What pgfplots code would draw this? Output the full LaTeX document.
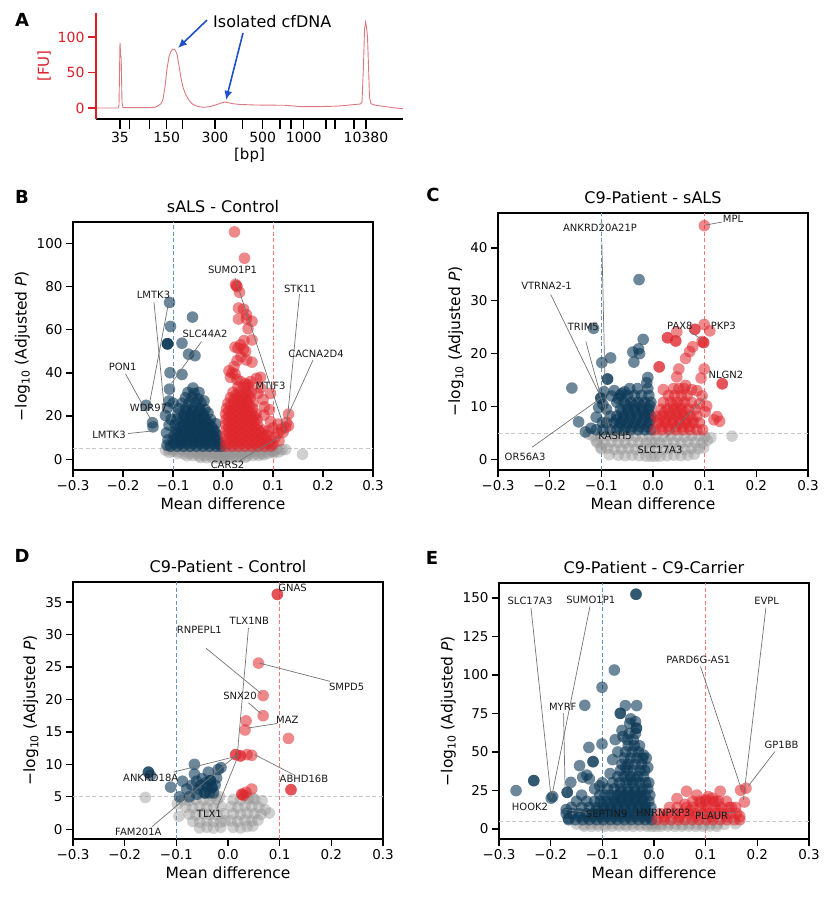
\documentclass[border=0pt]{standalone}
\usepackage{fontspec}
\setmainfont{DejaVu Sans}
\usepackage{pgfplots}
\pgfplotsset{compat=1.18}
\usetikzlibrary{arrows.meta}
\definecolor{cblue}{RGB}{12,56,86}
\definecolor{cred}{RGB}{222,38,44}
\definecolor{cgray}{RGB}{150,150,150}
\definecolor{vblue}{RGB}{100,150,190}
\definecolor{vred}{RGB}{240,120,120}
\definecolor{hgray}{RGB}{200,200,200}
\definecolor{fured}{RGB}{220,30,40}
\definecolor{trace}{RGB}{220,120,125}
\definecolor{arrowblue}{RGB}{30,80,200}
\pgfplotsset{
 volc/.style={scale only axis, anchor=south west, xmin=-0.3, xmax=0.3,
   xtick={-0.3,-0.2,-0.1,0,0.1,0.2,0.3},
   xticklabels={−0.3,−0.2,−0.1,0.0,0.1,0.2,0.3},
   xtick pos=left, ytick pos=left, tick align=outside, major tick length=7pt,
   axis line style={line width=1.6pt}, tick style={black, line width=1.3pt},
   tick label style={font=\fontsize{13.5}{15}\selectfont},
   /pgf/number format/assume math mode=true,
   xlabel={Mean difference}, ylabel={−log\textsubscript{10} (Adjusted \textit{P})},
   label style={font=\fontsize{15.5}{17}\selectfont},
   title style={font=\fontsize{16}{18}\selectfont},
   clip=false},
 ovl/.style={scale only axis, anchor=south west, xmin=-0.3, xmax=0.3, hide axis, clip=false},
 gp/.style={only marks, color=cgray, mark=*, mark size=5.8pt, mark options={draw=cgray, draw opacity=0, fill=cgray, fill opacity=0.45}},
 bp/.style={only marks, color=cblue, mark=*, mark size=5.8pt, mark options={draw=cblue, draw opacity=0, fill=cblue, fill opacity=0.6}},
 rp/.style={only marks, color=cred, mark=*, mark size=5.8pt, mark options={draw=cred, draw opacity=0, fill=cred, fill opacity=0.55}},
 vb/.style={vblue, dash pattern=on 4pt off 2.5pt, line width=0.9pt},
 vr/.style={vred, dash pattern=on 4pt off 2.5pt, line width=0.9pt},
 hg/.style={hgray, dash pattern=on 4pt off 2.5pt, line width=0.9pt},
}
\tikzset{ann/.style={font=\fontsize{10}{12}\selectfont, text=black!90, inner sep=0pt},
 con/.style={draw=black!55, line width=0.7pt},
 letter/.style={font=\bfseries\fontsize{18}{20}\selectfont}}
\begin{document}
\begin{tikzpicture}
\path[use as bounding box] (0pt,0pt) rectangle (831pt,900pt);
% ---------------- Panel A ----------------
\begin{axis}[at={(96pt,781pt)}, anchor=south west, scale only axis, width=307pt, height=106pt,
  xmin=96, xmax=403, ymin=-15.5, ymax=133.8, hide y axis, axis x line*=bottom,
  x axis line style={black, line width=1.3pt, -}, xtick pos=left, tick align=outside,
  major tick length=10pt, tick style={black, line width=1.1pt},
  xtick={120,129.3,149.3,166.7,182.7,215,242.7,262.7,280,291,303.7,326,335,354,366},
  xticklabels={35,,,150,,300,,500,,,1000,,,,10380},
  tick label style={font=\fontsize{14}{16}\selectfont},
  xlabel={[bp]}, xlabel style={font=\fontsize{15}{17}\selectfont, yshift=2pt}, clip=false]
\addplot[trace, line width=0.9pt] coordinates {(97,0)(118,0)(119,4)(120,92)(120.6,75)(121.2,70)(122,8)(123,0.5)(150,0.5)(155,1)(158,3)(161,6)(163,12)(165,30)(167,55)(169,72)(171,80)(173,83)(175,82)(177,76)(179,60)(181,42)(183,29)(186,18)(189,11)(192,6)(196,3)(200,1.5)(205,1)(210,2)(215,4)(220,6.5)(225,8.5)(228,7.5)(233,6)(240,5)(255,4.2)(270,4)(285,3.8)(292,3)(300,2)(320,2)(335,2.5)(345,3.5)(355,5)(360,5.5)(362,8)(363.5,60)(364.5,110)(365.5,121)(366.5,114)(367.5,100)(368.5,60)(369.5,15)(371,6)(375,4)(385,2)(395,0)(403,-1)};
\draw[-{Latex[length=9pt,width=8pt]}, arrowblue, line width=1.6pt] (axis cs:207,123.9) -- (axis cs:178,84.5);
\draw[-{Latex[length=9pt,width=8pt]}, arrowblue, line width=1.6pt] (axis cs:243,105.6) -- (axis cs:226,11.3);
\node[anchor=west, font=\fontsize{16}{18}\selectfont, inner sep=0pt] at (axis cs:213,122) {Isolated cfDNA};
\end{axis}
\begin{axis}[at={(96pt,781pt)}, anchor=south west, scale only axis, width=307pt, height=106pt,
  xmin=96, xmax=403, ymin=-15.5, ymax=133.8, hide x axis, axis y line*=left,
  y axis line style={fured, line width=1.3pt, -}, ytick pos=left, tick align=outside,
  major tick length=8pt, tick style={fured, line width=1.2pt}, ytick={0,50,100},
  /pgf/number format/assume math mode=true,
  yticklabel style={text=fured, font=\fontsize{14}{16}\selectfont},
  ylabel={[FU]}, ylabel style={text=fured, font=\fontsize{15}{17}\selectfont}]
\addplot[draw=none] coordinates {(100,0)};
\end{axis}
\node[letter] at (22pt,880pt) {A};
% ---------------- Panel B ----------------
\begin{axis}[volc, at={(73pt,430pt)}, width=300pt, height=248pt, ymin=-5, ymax=110,
  ytick={0,20,40,60,80,100}, title={sALS - Control}]
\addplot[vb] coordinates {(-0.1,-5)(-0.1,110)};
\addplot[vr] coordinates {(0.1,-5)(0.1,110)};
\addplot[hg] coordinates {(-0.3,5)(0.3,5)};
\addplot[gp] coordinates {(-0.108,4.6)(-0.096,4.5)(-0.084,4.7)(-0.072,4.6)(-0.060,4.5)(-0.048,4.7)(-0.036,4.6)(-0.024,4.5)(-0.012,4.7)(0.012,4.6)(0.024,4.5)(0.036,4.7)(0.048,4.6)(0.060,4.5)(0.072,4.7)(0.084,4.6)(0.096,4.5)(0.108,4.6)(0.118,4.4)
(-0.100,3.6)(-0.088,3.5)(-0.076,3.7)(-0.064,3.6)(-0.052,3.5)(-0.040,3.7)(-0.028,3.6)(-0.016,3.5)(-0.005,3.7)(0.005,3.6)(0.016,3.5)(0.028,3.7)(0.040,3.6)(0.052,3.5)(0.064,3.7)(0.076,3.6)(0.088,3.5)(0.100,3.6)(0.112,3.4)
(-0.090,2.6)(-0.078,2.5)(-0.066,2.7)(-0.054,2.6)(-0.042,2.5)(-0.030,2.7)(-0.018,2.6)(-0.006,2.5)(0.006,2.6)(0.018,2.7)(0.030,2.5)(0.042,2.6)(0.054,2.7)(0.066,2.5)(0.078,2.6)(0.090,2.7)(0.102,2.9)
(-0.072,1.6)(-0.060,1.7)(-0.048,1.5)(-0.036,1.6)(-0.024,1.7)(-0.012,1.5)(-0.004,1.6)(0.004,1.6)(0.012,1.5)(0.024,1.7)(0.036,1.6)(0.048,1.5)(0.060,1.7)(0.072,1.8)(0.082,2.0)
(-0.045,0.8)(-0.033,0.7)(-0.021,0.6)(-0.010,0.5)(-0.003,0.4)(0.003,0.4)(0.010,0.5)(0.021,0.6)(0.033,0.7)(0.045,0.9)
(0.159,2.3)(0.100,3.7)(-0.115,4.2)(0.125,4.5)(-0.108,3.2)};
\addplot[bp] coordinates {(-0.105,6)(-0.092,6)(-0.079,6)(-0.066,6)(-0.053,6)(-0.040,6)(-0.027,6)(-0.014,6)(-0.004,6)
(-0.100,8.5)(-0.087,8.5)(-0.074,8.5)(-0.061,8.5)(-0.048,8.5)(-0.035,8.5)(-0.022,8.5)(-0.010,8.5)
(-0.098,11)(-0.085,11)(-0.072,11)(-0.059,11)(-0.046,11)(-0.033,11)(-0.020,11)(-0.012,11)
(-0.094,13.5)(-0.081,13.5)(-0.068,13.5)(-0.055,13.5)(-0.042,13.5)(-0.029,13.5)(-0.018,13.5)
(-0.096,16)(-0.079,16)(-0.066,16)(-0.053,16)(-0.040,16)(-0.027,16)(-0.015,16.5)
(-0.092,18.5)(-0.075,18.5)(-0.062,18.5)(-0.049,18.5)(-0.036,18.5)(-0.025,18.5)
(-0.090,21)(-0.078,21)(-0.065,21)(-0.052,21)(-0.040,21)(-0.030,21.5)
(-0.088,23.5)(-0.074,23.5)(-0.061,23.5)(-0.048,23.5)(-0.036,23)
(-0.082,26)(-0.068,26)(-0.055,26)(-0.044,26)
(-0.075,28.5)(-0.062,28.5)(-0.050,28)
(-0.070,31)(-0.058,30.5)
(-0.098,7.3)(-0.085,7.3)(-0.072,7.3)(-0.059,7.3)(-0.046,7.3)(-0.033,7.3)(-0.020,7.3)(-0.008,7.3)
(-0.094,9.8)(-0.081,9.8)(-0.068,9.8)(-0.055,9.8)(-0.042,9.8)(-0.029,9.8)(-0.016,9.8)
(-0.091,12.3)(-0.078,12.3)(-0.065,12.3)(-0.052,12.3)(-0.039,12.3)(-0.026,12.3)(-0.015,12.3)
(-0.086,14.8)(-0.073,14.8)(-0.060,14.8)(-0.047,14.8)(-0.034,14.8)(-0.022,14.8)
(-0.082,17.3)(-0.069,17.3)(-0.056,17.3)(-0.043,17.3)(-0.031,17.3)
(-0.078,19.8)(-0.065,19.8)(-0.052,19.8)(-0.039,19.8)
(-0.072,22.3)(-0.059,22.3)(-0.046,22.3)
(-0.107,72.7)(-0.061,65.9)(-0.105,61.6)(-0.111,53.5)(-0.111,53.5)(-0.111,53.5)(-0.082,53.8)(-0.069,48.7)(-0.056,48)(-0.106,40.1)(-0.082,39.3)(-0.107,32.5)(-0.108,27)(-0.154,25)(-0.111,23.8)(-0.115,20.3)(-0.141,16.9)(-0.140,15)(-0.113,12.2)(-0.108,15.8)(-0.110,9)(-0.104,18.5)(-0.100,26)(-0.060,33)(-0.048,31)(-0.038,27)(-0.112,6.5)};
\addplot[rp] coordinates {(0.005,6)(0.018,6)(0.031,6)(0.044,6)(0.057,6)(0.070,6)(0.083,6)(0.096,6)
(0.006,8.5)(0.019,8.5)(0.032,8.5)(0.045,8.5)(0.058,8.5)(0.071,8.5)(0.084,8.5)(0.094,8.5)
(0.005,11)(0.018,11)(0.031,11)(0.044,11)(0.057,11)(0.070,11)(0.082,11)
(0.006,13.5)(0.019,13.5)(0.032,13.5)(0.045,13.5)(0.058,13.5)(0.071,13.5)(0.080,13.5)
(0.005,16)(0.018,16)(0.031,16)(0.044,16)(0.057,16)(0.069,16)
(0.006,18.5)(0.019,18.5)(0.032,18.5)(0.045,18.5)(0.058,18.5)(0.068,18.5)
(0.005,21)(0.018,21)(0.031,21)(0.044,21)(0.057,21)(0.066,21)
(0.007,23.5)(0.020,23.5)(0.033,23.5)(0.046,23.5)(0.059,23.5)
(0.010,26)(0.023,26)(0.036,26)(0.049,26)(0.060,26)
(0.015,28.5)(0.028,28.5)(0.041,28.5)(0.054,28.5)
(0.020,31)(0.033,31)(0.046,31)(0.056,31)
(0.030,33.5)(0.042,33.5)(0.052,33.5)
(0.012,7.3)(0.025,7.3)(0.038,7.3)(0.051,7.3)(0.064,7.3)(0.077,7.3)(0.090,7.3)
(0.012,9.8)(0.025,9.8)(0.038,9.8)(0.051,9.8)(0.064,9.8)(0.077,9.8)
(0.012,12.3)(0.025,12.3)(0.038,12.3)(0.051,12.3)(0.064,12.3)(0.075,12.3)
(0.012,14.8)(0.025,14.8)(0.038,14.8)(0.051,14.8)(0.064,14.8)
(0.012,17.3)(0.025,17.3)(0.038,17.3)(0.051,17.3)(0.062,17.3)
(0.012,19.8)(0.025,19.8)(0.038,19.8)(0.051,19.8)(0.062,19.8)
(0.012,22.3)(0.025,22.3)(0.038,22.3)(0.051,22.3)
(0.015,24.8)(0.028,24.8)(0.041,24.8)(0.053,24.8)
(0.021,27.3)(0.034,27.3)(0.047,27.3)
(0.026,29.8)(0.039,29.8)(0.050,29.8)
(0.012,41)(0.018,40)(0.024,39.5)(0.015,38)(0.028,37)(0.035,36)(0.045,35)(0.050,34.5)(0.022,43)(0.055,36)(0.067,37.5)(0.075,38)(0.095,30.5)(0.080,27.7)(0.083,24.3)(0.093,22.9)(0.082,20.5)(0.095,17.4)(0.131,20.9)(0.127,17)(0.110,16.3)(0.131,15.5)(0.125,14.7)(0.117,14)(0.100,14.5)(0.120,12.5)(0.110,12)(0.104,10)(0.112,8.5)(0.100,7)(0.070,30.5)(0.075,33)(0.088,11)(0.090,13)
(0.023,105.4)(0.043,93.2)(0.025,81)(0.028,80)(0.027,80.5)(0.033,77.4)(0.031,70.1)(0.041,69.6)(0.047,67)(0.031,65)(0.047,65)(0.058,64)(0.050,60.5)(0.058,55.3)(0.024,52)(0.035,53)(0.041,51)(0.045,50)(0.030,51.5)(0.028,45.7)(0.047,46)(0.058,45)(0.042,55)(0.036,47.5)};
\end{axis}
\begin{axis}[ovl, at={(73pt,430pt)}, width=300pt, height=248pt, ymin=-5, ymax=110]
\addplot[draw=none] coordinates {(0,0)};
\draw[con] (axis cs:0.024,84.1) -- (axis cs:0.126,12.0);
\draw[con] (axis cs:0.153,76.5) -- (axis cs:0.128,17);
\draw[con] (axis cs:0.180,46) -- (axis cs:0.131,20.9);
\draw[con] (axis cs:0.034,-0.5) -- (axis cs:0.114,10.4);
\draw[con] (axis cs:-0.043,54.6) -- (axis cs:-0.103,35.2);
\draw[con] (axis cs:-0.138,72.7) -- (axis cs:-0.115,18.1);
\draw[con] (axis cs:-0.109,72.4) -- (axis cs:-0.147,25.8);
\draw[con] (axis cs:-0.195,39.6) -- (axis cs:-0.141,16.9);
\draw[con] (axis cs:-0.19,11.9) -- (axis cs:-0.141,13.1);
\node[ann] at (axis cs:0.019,87.6) {SUMO1P1};
\node[ann] at (axis cs:0.154,79.2) {STK11};
\node[ann] at (axis cs:0.186,49) {CACNA2D4};
\node[ann] at (axis cs:0.095,34.1) {MTIF3};
\node[ann] at (axis cs:0.009,-2.5) {CARS2};
\node[ann] at (axis cs:-0.036,58.1) {SLC44A2};
\node[ann] at (axis cs:-0.139,76) {LMTK3};
\node[ann] at (axis cs:-0.149,23.6) {WDR97};
\node[ann] at (axis cs:-0.2006,42.6) {PON1};
\node[ann] at (axis cs:-0.228,11.5) {LMTK3};
\end{axis}
\node[letter] at (22pt,703pt) {B};
% ---------------- Panel C ----------------
\begin{axis}[volc, at={(498pt,430pt)}, width=310pt, height=257pt, ymin=-2, ymax=46.6,
  ytick={0,10,20,30,40}, title={C9-Patient - sALS}]
\addplot[vb] coordinates {(-0.1,-2)(-0.1,46.6)};
\addplot[vr] coordinates {(0.1,-2)(0.1,46.6)};
\addplot[hg] coordinates {(-0.3,5)(0.3,5)};
\addplot[gp] coordinates {(-0.115,4.4)(-0.1015,4.3)(-0.088,4.5)(-0.0745,4.4)(-0.061,4.3)(-0.0475,4.5)(-0.034,4.4)(-0.0205,4.3)(-0.007,4.5)(0.007,4.4)(0.0205,4.3)(0.034,4.5)(0.0475,4.4)(0.061,4.3)(0.0745,4.5)(0.088,4.4)(0.100,4.3)
(-0.108,3.2)(-0.0945,3.1)(-0.081,3.3)(-0.0675,3.2)(-0.054,3.1)(-0.0405,3.3)(-0.027,3.2)(-0.0135,3.1)(-0.004,3.3)(0.004,3.2)(0.0135,3.1)(0.027,3.3)(0.0405,3.2)(0.054,3.1)(0.0675,3.3)(0.081,3.2)(0.0945,3.1)
(-0.100,2.0)(-0.088,2.1)(-0.0745,1.9)(-0.061,2.0)(-0.0475,2.1)(-0.034,1.9)(-0.0205,2.0)(-0.007,2.1)(0.007,2.0)(0.0205,1.9)(0.034,2.1)(0.0475,2.0)(0.061,1.9)(0.0745,2.1)(0.088,2.0)(0.098,2.2)
(-0.085,0.9)(-0.0675,0.8)(-0.054,0.7)(-0.0405,0.8)(-0.027,0.7)(-0.0135,0.6)(-0.004,0.6)(0.004,0.6)(0.0135,0.6)(0.027,0.7)(0.0405,0.8)(0.054,0.7)(0.0675,0.8)(0.080,1.0)
(0.112,4.1)(0.153,4.4)(-0.101,2.3)(-0.125,4.8)(-0.110,3.5)(0.105,3.6)};
\addplot[bp] coordinates {(-0.110,5.6)(-0.097,5.6)(-0.083,5.6)(-0.070,5.6)(-0.056,5.6)(-0.043,5.6)(-0.029,5.6)(-0.016,5.6)(-0.004,5.6)
(-0.090,6.9)(-0.076,6.9)(-0.063,6.9)(-0.049,6.9)(-0.036,6.9)(-0.022,6.9)(-0.008,6.9)
(-0.083,8.2)(-0.070,8.2)(-0.056,8.2)(-0.043,8.2)(-0.029,8.2)(-0.016,8.2)(-0.004,8.2)
(-0.090,9.5)(-0.063,9.5)(-0.049,9.5)(-0.036,9.5)(-0.022,9.5)(-0.008,9.5)
(-0.070,10.8)(-0.056,10.8)(-0.043,10.8)(-0.029,10.8)(-0.016,10.8)(-0.004,10.8)
(-0.063,12.1)(-0.049,12.1)(-0.036,12.1)(-0.022,12.1)(-0.008,12.1)
(-0.045,13.4)(-0.030,13.4)(-0.010,13.4)(-0.012,14.5)
(-0.065,6.2)(-0.052,6.2)(-0.038,6.2)(-0.025,6.2)(-0.011,6.2)
(-0.070,7.5)(-0.058,7.5)(-0.045,7.5)(-0.032,7.5)(-0.018,7.5)(-0.005,7.5)
(-0.060,8.9)(-0.047,8.9)(-0.033,8.9)(-0.019,8.9)(-0.009,8.9)
(-0.050,10.2)(-0.036,10.2)(-0.023,10.2)(-0.006,10.2)
(-0.027,34)(-0.115,24.8)(-0.019,22.7)(-0.039,20.3)(-0.026,20)(-0.028,20.9)(-0.037,18.4)(-0.082,19.2)(-0.099,18.3)(-0.010,15.5)(-0.157,13.5)(-0.088,15.2)(-0.088,15.2)(-0.075,13)(-0.060,12.5)(-0.101,11.6)(-0.101,11.6)(-0.097,10.4)(-0.144,7.1)(-0.131,5.2)(-0.120,5.9)(-0.105,9.8)(-0.110,8)(-0.098,7)(-0.080,12)(-0.067,11.5)(-0.055,12.8)(-0.095,12.8)};
\addplot[rp] coordinates {(0.004,5.6)(0.0175,5.6)(0.031,5.6)(0.0445,5.6)(0.058,5.6)(0.0715,5.6)(0.085,5.6)(0.096,5.6)
(0.010,6.9)(0.024,6.9)(0.037,6.9)(0.051,6.9)(0.064,6.9)(0.078,6.9)(0.090,6.9)
(0.006,8.2)(0.0175,8.2)(0.031,8.2)(0.0445,8.2)(0.058,8.2)(0.0715,8.2)(0.085,8.2)
(0.015,9.5)(0.028,9.5)(0.042,9.5)(0.055,9.5)(0.069,9.5)(0.082,9.5)
(0.020,10.8)(0.034,10.8)(0.047,10.8)(0.061,10.8)(0.074,10.8)
(0.030,12.1)(0.042,12.1)(0.055,12.1)(0.066,12.1)
(0.040,13.4)(0.050,13.4)(0.060,13.4)
(0.017,6.2)(0.030,6.2)(0.044,6.2)(0.057,6.2)(0.070,6.2)
(0.012,7.5)(0.025,7.5)(0.038,7.5)(0.051,7.5)(0.064,7.5)(0.077,7.5)
(0.022,8.9)(0.035,8.9)(0.048,8.9)(0.061,8.9)
(0.040,10.2)(0.053,10.2)
(0.0993,44.2)(0.099,25.5)(0.110,24.3)(0.081,24.6)(0.081,24.6)(0.046,24.1)(0.028,23.0)(0.028,23.0)(0.044,22.4)(0.044,22.4)(0.098,22.1)(0.098,22.1)(0.095,22.3)(0.077,21.3)(0.071,20.4)(0.063,19.1)(0.050,17.1)(0.012,17.5)(0.012,17.5)(0.099,17.1)(0.046,15.6)(0.093,15.4)(0.134,14.3)(0.134,14.3)(0.020,13.2)(0.063,14)(0.075,13.2)(0.085,13)(0.104,10.1)(0.101,9)(0.124,8.1)(0.118,7.5)(0.129,7.2)(0.095,12)(0.090,10.5)};
\end{axis}
\begin{axis}[ovl, at={(498pt,430pt)}, width=310pt, height=257pt, ymin=-2, ymax=46.6]
\addplot[draw=none] coordinates {(0,0)};
\draw[con] (axis cs:0.134,44.9) -- (axis cs:0.101,44.3);
\draw[con] (axis cs:-0.099,41) -- (axis cs:-0.091,6);
\draw[con] (axis cs:-0.198,31.2) -- (axis cs:-0.1025,12.1);
\draw[con] (axis cs:-0.130,22.3) -- (axis cs:-0.083,5.5);
\draw[con] (axis cs:-0.234,2.3) -- (axis cs:-0.101,11.6);
\draw[con] (axis cs:0.070,24.3) -- (axis cs:0.097,22.5);
\draw[con] (axis cs:0.026,4.3) -- (axis cs:0.103,11.9);
\node[ann] at (axis cs:0.155,45.4) {MPL};
\node[ann] at (axis cs:-0.1025,43.7) {ANKRD20A21P};
\node[ann] at (axis cs:-0.206,32.8) {VTRNA2-1};
\node[ann] at (axis cs:-0.135,25.1) {TRIM5};
\node[ann] at (axis cs:-0.0735,4.5) {KASH5};
\node[ann] at (axis cs:-0.2476,0.57) {OR56A3};
\node[ann] at (axis cs:0.052,25.2) {PAX8};
\node[ann] at (axis cs:0.136,25.3) {PKP3};
\node[ann] at (axis cs:0.141,16.0) {NLGN2};
\node[ann] at (axis cs:0.0135,1.8) {SLC17A3};
\end{axis}
\node[letter] at (433pt,705pt) {C};
% ---------------- Panel D ----------------
\begin{axis}[volc, at={(73pt,61pt)}, width=310pt, height=257pt, ymin=-1.5, ymax=38.1,
  ytick={0,5,10,15,20,25,30,35}, title={C9-Patient - Control}]
\addplot[vb] coordinates {(-0.1,-1.5)(-0.1,38.1)};
\addplot[vr] coordinates {(0.1,-1.5)(0.1,38.1)};
\addplot[hg] coordinates {(-0.3,5)(0.3,5)};
\addplot[gp] coordinates {(-0.088,4.5)(-0.075,4.4)(-0.062,4.6)(-0.048,4.5)(-0.035,4.4)(-0.021,4.6)(-0.082,3.4)(-0.068,3.3)(-0.055,3.5)(-0.041,3.4)(-0.028,3.3)(-0.014,3.5)(-0.075,2.3)(-0.062,2.2)(-0.048,2.4)(-0.035,2.3)(-0.021,2.2)(-0.008,2.4)(-0.068,1.2)(-0.055,1.1)(-0.041,1.3)(-0.028,1.2)(-0.014,1.1)(-0.006,1.3)(-0.055,0.2)(-0.041,0.3)(-0.028,0.2)(-0.014,0.3)
(0.010,4.6)(0.024,4.5)(0.040,4.7)(0.052,4.6)(0.006,3.5)(0.019,3.4)(0.033,3.6)(0.046,3.5)(0.060,3.4)(0.010,2.4)(0.024,2.3)(0.037,2.5)(0.051,2.4)(0.064,2.3)(0.006,1.3)(0.019,1.2)(0.033,1.4)(0.046,1.3)(0.058,1.4)(0.010,0.3)(0.024,0.2)(0.037,0.4)(0.048,0.5)
(-0.160,4.9)(0.080,2.5)(0.048,4.8)(-0.098,3.9)(-0.095,2.0)(0.066,4.4)(0.072,3.0)(-0.016,5.0)(0.035,5.2)(-0.030,5.1)};
\addplot[bp] coordinates {(-0.154,8.8)(-0.154,8.8)(-0.150,8.3)(-0.065,10.0)(-0.111,6.5)(-0.088,7.4)(-0.065,8.5)(-0.038,8.8)(-0.019,9.2)(-0.061,7.4)(-0.050,7.8)(-0.034,7.5)(-0.034,7.5)(-0.031,6.4)(-0.031,6.4)(-0.057,6.2)(-0.045,5.6)(-0.045,5.6)(-0.094,5.0)(-0.075,5.0)(-0.080,6.2)(-0.070,6.8)(-0.040,6.6)(-0.028,5.6)(-0.025,6.8)(-0.052,6.8)(-0.022,7.9)(-0.060,5.4)(-0.036,5.6)(-0.0135,9.5)(-0.042,7.2)};
\addplot[rp] coordinates {(0.0955,36.2)(0.0955,36.2)(0.059,25.6)(0.068,20.6)(0.068,17.5)(0.035,16.7)(0.033,15.3)(0.117,14.0)(0.015,11.5)(0.015,11.5)(0.024,11.3)(0.024,11.3)(0.037,11.5)(0.046,11.4)(0.1219,6.1)(0.1219,6.1)(0.046,6.2)(0.035,5.7)(0.027,5.4)(0.027,5.4)(0.030,5.2)};
\end{axis}
\begin{axis}[ovl, at={(73pt,61pt)}, width=310pt, height=257pt, ymin=-1.5, ymax=38.1]
\addplot[draw=none] coordinates {(0,0)};
\draw[con] (axis cs:0.0396,31.0) -- (axis cs:0.018,11.5);
\draw[con] (axis cs:-0.0426,27.9) -- (axis cs:0.0645,20.9);
\draw[con] (axis cs:0.197,22.8) -- (axis cs:0.061,25.6);
\draw[con] (axis cs:0.0394,19.5) -- (axis cs:0.064,17.8);
\draw[con] (axis cs:0.0955,16.3) -- (axis cs:0.0387,15.6);
\draw[con] (axis cs:-0.1058,8.8) -- (axis cs:0.0168,11.25);
\draw[con] (axis cs:0.127,8.4) -- (axis cs:0.0516,11.5);
\draw[con] (axis cs:-0.022,3.1) -- (axis cs:0.0206,11.5);
\draw[con] (axis cs:-0.147,0.4) -- (axis cs:0.0174,11.5);
\node[ann] at (axis cs:0.125,37.2) {GNAS};
\node[ann] at (axis cs:0.0413,32.1) {TLX1NB};
\node[ann] at (axis cs:-0.0555,30.8) {RNPEPL1};
\node[ann] at (axis cs:0.2296,21.9) {SMPD5};
\node[ann] at (axis cs:0.0232,20.5) {SNX20};
\node[ann] at (axis cs:0.1148,16.8) {MAZ};
\node[ann] at (axis cs:-0.1496,7.96) {ANKRD18A};
\node[ann] at (axis cs:0.147,7.7) {ABHD16B};
\node[ann] at (axis cs:-0.036,2.3) {TLX1};
\node[ann] at (axis cs:-0.1735,-0.4) {FAM201A};
\end{axis}
\node[letter] at (22pt,344pt) {D};
% ---------------- Panel E ----------------
\begin{axis}[volc, at={(499pt,61pt)}, width=310pt, height=256pt, ymin=-6.5, ymax=159.7,
  ytick={0,25,50,75,100,125,150}, title={C9-Patient - C9-Carrier}]
\addplot[vb] coordinates {(-0.1,-6.5)(-0.1,159.7)};
\addplot[vr] coordinates {(0.1,-6.5)(0.1,159.7)};
\addplot[hg] coordinates {(-0.3,5)(0.3,5)};
\addplot[gp] coordinates {(-0.150,3.2)(-0.1365,3.0)(-0.123,3.3)(-0.1095,3.2)(-0.096,3.0)(-0.0825,3.3)(-0.069,3.2)(-0.0555,3.0)(-0.042,3.3)(-0.0285,3.2)(-0.015,3.0)(-0.004,3.3)(0.004,3.2)(0.015,3.0)(0.0285,3.3)(0.042,3.2)(0.0555,3.0)(0.069,3.3)(0.0825,3.2)(0.096,3.0)(0.1095,3.3)(0.123,3.2)(0.1365,3.0)
(-0.135,1.8)(-0.1215,1.7)(-0.108,1.9)(-0.0945,1.8)(-0.081,1.7)(-0.0675,1.9)(-0.054,1.8)(-0.0405,1.7)(-0.027,1.9)(-0.0135,1.8)(-0.004,1.7)(0.004,1.7)(0.0135,1.8)(0.027,1.9)(0.0405,1.7)(0.054,1.8)(0.0675,1.9)(0.081,1.7)(0.0945,1.8)(0.108,1.9)(0.1215,1.7)
(0.158,3.4)};
\addplot[bp] coordinates {(-0.165,6)(-0.152,6)(-0.138,6)(-0.125,6)(-0.111,6)(-0.098,6)(-0.084,6)(-0.071,6)(-0.057,6)(-0.044,6)(-0.030,6)(-0.017,6)(-0.005,6)
(-0.170,10)(-0.158,10)(-0.145,10)(-0.131,10)(-0.118,10)(-0.104,10)(-0.091,10)(-0.077,10)(-0.064,10)(-0.050,10)(-0.037,10)(-0.023,10)(-0.010,10)
(-0.160,14)(-0.140,14)(-0.125,14)(-0.111,14)(-0.098,14)(-0.084,14)(-0.071,14)(-0.057,14)(-0.044,14)(-0.030,14)(-0.017,14)(-0.006,14)
(-0.130,18)(-0.115,18)(-0.104,18)(-0.091,18)(-0.077,18)(-0.064,18)(-0.050,18)(-0.037,18)(-0.023,18)(-0.010,18)
(-0.105,22)(-0.095,22)(-0.084,22)(-0.071,22)(-0.057,22)(-0.044,22)(-0.030,22)(-0.017,22)(-0.008,22)
(-0.090,26)(-0.077,26)(-0.064,26)(-0.050,26)(-0.037,26)(-0.023,26)(-0.012,26)
(-0.080,30)(-0.067,30)(-0.054,30)(-0.041,30)(-0.028,30)(-0.016,30)
(-0.070,34)(-0.058,34)(-0.045,34)(-0.032,34)(-0.020,34)
(-0.065,38)(-0.052,38)(-0.040,38)(-0.027,38)(-0.018,38)
(-0.062,42)(-0.050,42)(-0.037,42)(-0.024,42)
(-0.058,46)(-0.045,46)(-0.033,46)(-0.022,46)
(-0.055,50)(-0.042,50)(-0.030,50)
(-0.050,54)(-0.038,54)(-0.028,54)
(-0.052,58)(-0.040,58)(-0.048,62)(-0.036,62)
(-0.145,8)(-0.131,8)(-0.118,8)(-0.104,8)(-0.091,8)(-0.077,8)(-0.064,8)(-0.050,8)(-0.037,8)(-0.023,8)(-0.010,8)
(-0.111,12)(-0.098,12)(-0.084,12)(-0.071,12)(-0.057,12)(-0.044,12)(-0.030,12)(-0.017,12)
(-0.098,16)(-0.084,16)(-0.071,16)(-0.057,16)(-0.044,16)(-0.030,16)(-0.017,16)
(-0.077,20)(-0.064,20)(-0.050,20)(-0.037,20)(-0.023,20)
(-0.064,24)(-0.050,24)(-0.037,24)(-0.025,24)(-0.050,32)(-0.036,32)
(-0.0348,152.4)(-0.0348,152.4)(-0.0768,103.2)(-0.1006,92)(-0.134,80.3)(-0.0555,80.1)(-0.0335,80.1)(-0.0652,75.1)(-0.0652,75.1)(-0.045,71.5)(-0.047,68.6)(-0.036,69.7)(-0.034,65.4)(-0.034,65.4)(-0.1006,55.2)(-0.126,53)(-0.118,43.7)(-0.118,43.7)(-0.144,41.1)(-0.161,30.3)(-0.138,33.6)(-0.125,32.5)(-0.2327,31.4)(-0.2327,31.4)(-0.267,24.9)(-0.168,23.8)(-0.168,23.8)(-0.199,20)(-0.196,21)(-0.170,12.6)(-0.166,6.8)(-0.075,58)(-0.070,50)(-0.020,48)(-0.015,46)(-0.012,40)(-0.080,45)(-0.085,36)(-0.105,28)(-0.115,26)(-0.140,22)(-0.150,18)(-0.130,35)(-0.100,30)(-0.060,60)(-0.062,64)(-0.055,40)(-0.010,30)};
\addplot[rp] coordinates {(0.006,6)(0.020,6)(0.033,6)(0.047,6)(0.060,6)(0.074,6)(0.087,6)(0.101,6)(0.114,6)(0.128,6)(0.141,6)(0.155,6)(0.166,6)
(0.012,10)(0.026,10)(0.040,10)(0.053,10)(0.067,10)(0.080,10)(0.094,10)(0.107,10)(0.121,10)(0.134,10)(0.148,10)(0.160,10)
(0.030,14)(0.045,14)(0.062,14)(0.075,14)(0.090,14)(0.104,14)(0.118,14)(0.130,14)(0.145,14)(0.158,14)
(0.075,18)(0.088,18)(0.100,18)(0.115,18)(0.125,18)(0.140,18)
(0.020,8)(0.050,8)(0.080,8)(0.110,8)(0.140,8)(0.070,12)(0.100,12)(0.125,12)
(0.063,24.5)(0.0445,19.7)(0.083,22)(0.105,21)(0.113,20)(0.128,24.5)(0.120,18)(0.1676,25.2)(0.178,26.5)(0.175,17.5)(0.166,8.2)(0.150,14)(0.090,17)(0.060,16)(0.100,19)};
\end{axis}
\begin{axis}[ovl, at={(499pt,61pt)}, width=310pt, height=256pt, ymin=-6.5, ymax=159.7]
\addplot[draw=none] coordinates {(0,0)};
\draw[con] (axis cs:-0.238,143.3) -- (axis cs:-0.199,20);
\draw[con] (axis cs:-0.124,144.4) -- (axis cs:-0.198,21);
\draw[con] (axis cs:-0.175,75) -- (axis cs:-0.172,23);
\draw[con] (axis cs:-0.170,12.6) -- (axis cs:-0.125,10.5);
\draw[con] (axis cs:0.080,9.5) -- (axis cs:0.160,11);
\draw[con] (axis cs:0.090,105.5) -- (axis cs:0.1696,25.3);
\draw[con] (axis cs:0.2166,143.7) -- (axis cs:0.173,19);
\draw[con] (axis cs:0.234,50.3) -- (axis cs:0.183,28.1);
\node[ann] at (axis cs:-0.240,147.8) {SLC17A3};
\node[ann] at (axis cs:-0.1225,148.7) {SUMO1P1};
\node[ann] at (axis cs:-0.1766,79.4) {MYRF};
\node[ann] at (axis cs:-0.240,14.5) {HOOK2};
\node[ann] at (axis cs:-0.0915,9.5) {SEPTIN9};
\node[ann] at (axis cs:0.018,10.2) {HNRNPKP3};
\node[ann] at (axis cs:0.1116,8.4) {PLAUR};
\node[ann] at (axis cs:0.0857,109.7) {PARD6G-AS1};
\node[ann] at (axis cs:0.218,148) {EVPL};
\node[ann] at (axis cs:0.247,54.5) {GP1BB};
\end{axis}
\node[letter] at (432pt,342pt) {E};
\end{tikzpicture}
\end{document}
